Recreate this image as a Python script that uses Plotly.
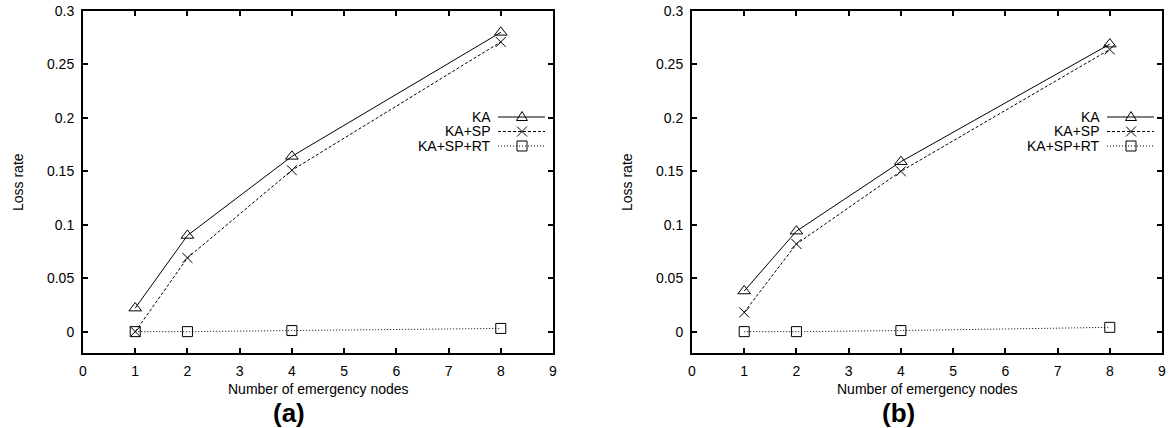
import plotly.graph_objects as go

W, H = 1169, 428

nodes = [1, 2, 4, 8]
series_names = ["KA", "KA+SP", "KA+SP+RT"]

a_ka = [0.022, 0.090, 0.164, 0.280]
a_kasp = [0.000, 0.069, 0.151, 0.271]
a_kasprt = [0.000, 0.000, 0.001, 0.003]

b_ka = [0.038, 0.094, 0.159, 0.269]
b_kasp = [0.018, 0.082, 0.150, 0.264]
b_kasprt = [0.000, 0.000, 0.001, 0.004]

ytick_vals = [0, 0.05, 0.1, 0.15, 0.2, 0.25, 0.3]
ytick_text = ["0", "0.05", "0.1", "0.15", "0.2", "0.25", "0.3"]
xtick_vals = [0, 1, 2, 3, 4, 5, 6, 7, 8, 9]
xtick_text = ["0", "1", "2", "3", "4", "5", "6", "7", "8", "9"]
panel_labels = ["(a)", "(b)"]
x_title = "Number of emergency nodes"
y_title = "Loss rate"

FONT = "Liberation Sans, Arial, Helvetica, sans-serif"
FS = 14

def px(x):
    return x / W

def py(y):
    return 1 - y / H

# plot areas in pixels
panels = [
    dict(left=83, right=553),
    dict(left=692, right=1162),
]
TOP, BOTTOM = 11, 353

styles = [
    dict(symbol="triangle-up-open", size=11, dash="solid"),
    dict(symbol="x-thin-open", size=10, dash="3px,2px"),
    dict(symbol="square-open", size=10, dash="1px,2px"),
]

fig = go.Figure()
data_sets = [[a_ka, a_kasp, a_kasprt], [b_ka, b_kasp, b_kasprt]]

for i, (panel, ds) in enumerate(zip(panels, data_sets)):
    xa = "x" if i == 0 else "x2"
    ya = "y" if i == 0 else "y2"
    for name, vals, st in zip(series_names, ds, styles):
        fig.add_trace(go.Scatter(
            x=nodes, y=vals, name=name, xaxis=xa, yaxis=ya,
            mode="lines+markers", showlegend=False,
            line=dict(color="black", width=1, dash=st["dash"]),
            marker=dict(symbol=st["symbol"], size=st["size"], color="black",
                        line=dict(color="black", width=1)),
        ))

axis_common = dict(
    showline=True, linecolor="black", linewidth=2, mirror="ticks",
    ticks="inside", ticklen=5, tickwidth=1.5, tickcolor="black",
    showgrid=False, zeroline=False, automargin=False,
    tickfont=dict(family=FONT, size=FS, color="black"),
)

layout = dict(
    template="none",
    width=W, height=H, margin=dict(l=0, r=0, t=0, b=0, pad=0, autoexpand=False),
    paper_bgcolor="white", plot_bgcolor="white", showlegend=False,
)
for i, panel in enumerate(panels):
    sx = "" if i == 0 else "2"
    layout["xaxis" + sx] = dict(
        axis_common, domain=[px(panel["left"]), px(panel["right"])],
        anchor="y" + sx, range=[0, 9], tickmode="array",
        tickvals=xtick_vals, ticktext=xtick_text, ticklabelstandoff=4,
    )
    layout["yaxis" + sx] = dict(
        axis_common, domain=[py(BOTTOM), py(TOP)],
        anchor="x" + sx, range=[-0.02, 0.3], tickmode="array",
        tickvals=ytick_vals, ticktext=ytick_text, ticklabelstandoff=4,
    )
fig.update_layout(**layout)

annotations = []
shapes = []
leg_rows = [117, 131.5, 146]
for i, panel in enumerate(panels):
    L, R = panel["left"], panel["right"]
    cx = (L + R) / 2
    annotations.append(dict(
        text=x_title, x=px(cx), y=py(389), xref="paper", yref="paper",
        showarrow=False, xanchor="center", yanchor="middle",
        font=dict(family=FONT, size=FS, color="black")))
    annotations.append(dict(
        text="<b>" + panel_labels[i] + "</b>", x=px(cx - 29), y=py(413),
        xref="paper", yref="paper", showarrow=False,
        xanchor="center", yanchor="middle",
        font=dict(family=FONT, size=26, color="black")))
    annotations.append(dict(
        text=y_title, x=px(L - 65), y=py((TOP + BOTTOM) / 2),
        xref="paper", yref="paper", showarrow=False, textangle=-90,
        xanchor="center", yanchor="middle",
        font=dict(family=FONT, size=FS, color="black")))
    # manual gnuplot-style key
    for name, st, ry in zip(series_names, styles, leg_rows):
        annotations.append(dict(
            text=name, x=px(R - 60), y=py(ry), xref="paper", yref="paper",
            showarrow=False, xanchor="right", yanchor="middle",
            font=dict(family=FONT, size=FS, color="black")))
        shapes.append(dict(
            type="line", xref="paper", yref="paper",
            x0=px(R - 55), x1=px(R - 8), y0=py(ry), y1=py(ry),
            line=dict(color="black", width=1, dash=st["dash"])))
        mx = R - 31
        if st["symbol"].startswith("triangle"):
            path = "M {} {} L {} {} L {} {} Z".format(
                px(mx - 5.5), py(ry + 3.5), px(mx + 5.5), py(ry + 3.5),
                px(mx), py(ry - 5.5))
            shapes.append(dict(type="path", xref="paper", yref="paper",
                               path=path, line=dict(color="black", width=1)))
        elif st["symbol"].startswith("x"):
            path = "M {} {} L {} {} M {} {} L {} {}".format(
                px(mx - 5), py(ry - 5), px(mx + 5), py(ry + 5),
                px(mx - 5), py(ry + 5), px(mx + 5), py(ry - 5))
            shapes.append(dict(type="path", xref="paper", yref="paper",
                               path=path, line=dict(color="black", width=1)))
        else:
            shapes.append(dict(type="rect", xref="paper", yref="paper",
                               x0=px(mx - 5), x1=px(mx + 5),
                               y0=py(ry - 5), y1=py(ry + 5),
                               line=dict(color="black", width=1)))

fig.update_layout(annotations=annotations, shapes=shapes)
fig.write_html("out.html")
